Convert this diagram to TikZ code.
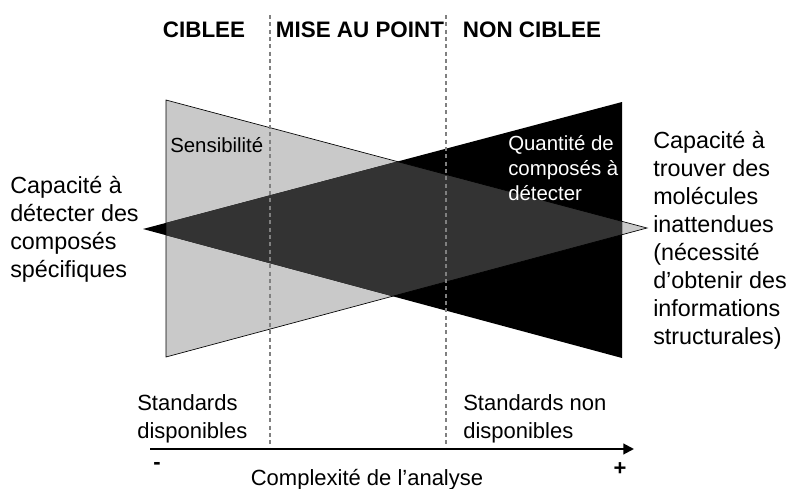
\documentclass[tikz,border=0pt]{standalone}
\usepackage{fontspec}
\setmainfont{Liberation Sans}
\usepackage{xcolor}
\usetikzlibrary{arrows.meta}
\definecolor{sensgray}{gray}{0.79}
\definecolor{overgray}{gray}{0.2}

\begin{document}
\begin{tikzpicture}[x=0.75pt,y=-0.75pt,
  head/.style={font=\fontsize{16.8}{20}\selectfont\bfseries},
  side/.style={font=\fontsize{17.5}{21}\selectfont, align=left, inner sep=0pt, anchor=west},
  inlbl/.style={font=\fontsize{15.3}{18.8}\selectfont, align=left, inner sep=0pt, anchor=west},
  bottom/.style={font=\fontsize{16.5}{21}\selectfont, align=left, inner sep=0pt, anchor=west},
  sep/.style={gray, line width=0.8pt, dash pattern=on 3pt off 2.5pt}]
\useasboundingbox (0,0) rectangle (793,489);
% triangles
\coordinate (sTL) at (166,100);
\coordinate (sBL) at (166,357);
\coordinate (sTip) at (647,228);
\coordinate (qTR) at (622,102);
\coordinate (qBR) at (622,358);
\coordinate (qTip) at (143,229);
\fill[sensgray] (sTL) -- (sTip) -- (sBL) -- cycle;
\fill[black] (qTR) -- (qTip) -- (qBR) -- cycle;
\begin{scope}
\clip (sTL) -- (sTip) -- (sBL) -- cycle;
\fill[overgray] (qTR) -- (qTip) -- (qBR) -- cycle;
\end{scope}
\draw[line width=0.5pt] (sTL) -- (sTip) -- (sBL) -- cycle;
% headers and separators
\node[head] (cib) at (204,30) {CIBLEE};
\node[head] (mise) at (360,30) {MISE AU POINT};
\node[head] (noncib) at (532,30) {NON CIBLEE};
\coordinate (s1top) at (270,15);
\coordinate (s1bot) at (270,449);
\coordinate (s2top) at (446,15);
\coordinate (s2bot) at (446,449);
\draw[sep] (s1top) -- (s1bot);
\draw[sep] (s2top) -- (s2bot);
% labels
\node[inlbl] (sens) at (170,145) {Sensibilité};
\node[inlbl, white] (quant) at (508,168) {Quantité de\\composés à\\détecter};
\node[side] (spec) at (10,229) {Capacité à\\détecter des\\composés\\spécifiques};
\node[side] (inatt) at (653,240) {Capacité à\\trouver des\\molécules\\inattendues\\(nécessité\\d’obtenir des\\informations\\structurales)};
\node[bottom] (stdyes) at (137,419) {Standards\\disponibles};
\node[bottom] (stdno) at (463,419) {Standards non\\disponibles};
% axis
\coordinate (ax0) at (150,449);
\coordinate (ax1) at (634,449);
\draw[line width=1.5pt, -{Triangle[length=8pt,width=8pt]}] (ax0) -- (ax1);
\node[font=\fontsize{16.5}{20}\selectfont\bfseries] (minus) at (157,466) {-};
\node[font=\fontsize{16.5}{20}\selectfont\bfseries] (plus) at (620,469) {+};
\node[font=\fontsize{16.5}{20}\selectfont] (cplx) at (367,480) {Complexité de l’analyse};
\end{tikzpicture}
\end{document}
